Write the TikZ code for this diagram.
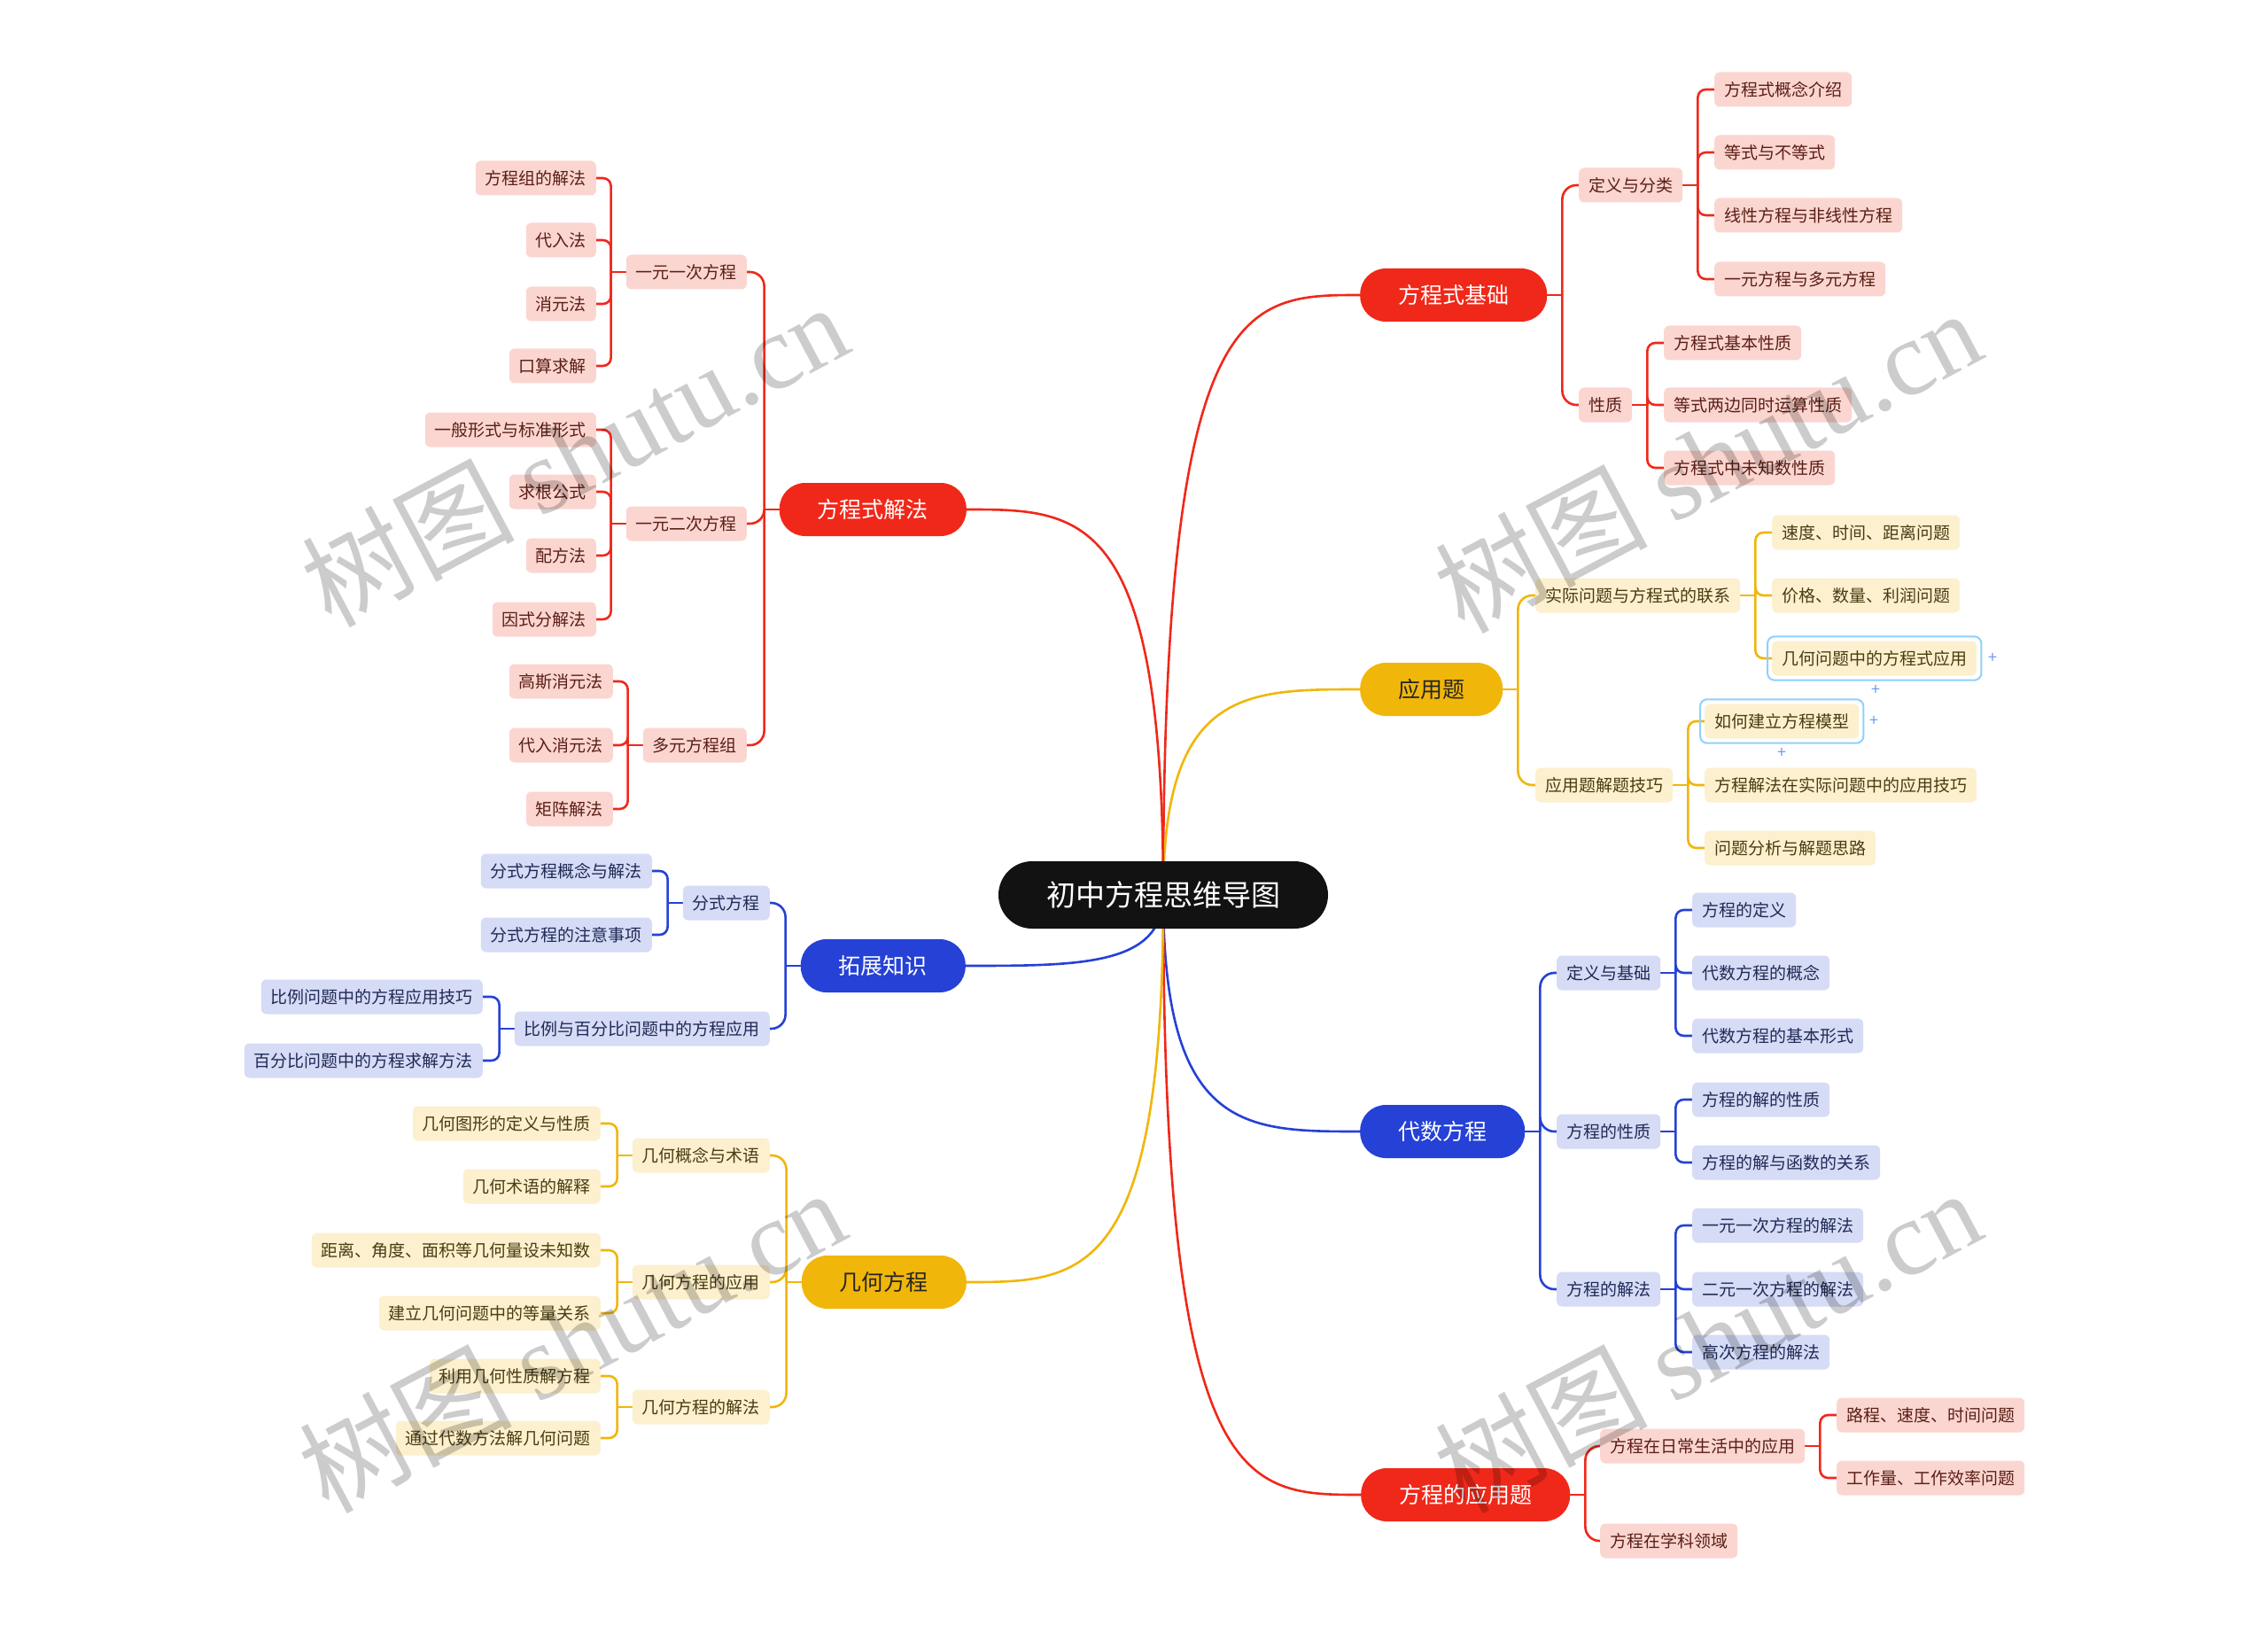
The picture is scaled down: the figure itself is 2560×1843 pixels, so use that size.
\documentclass[tikz,border=0pt]{standalone}
\usepackage{fontspec}
\setmainfont{Noto Sans CJK SC}
\newfontfamily\wmserif{Liberation Serif}
\usepackage{tikz}
\usetikzlibrary{calc, backgrounds}

\definecolor{redmain}{HTML}{F0281A}
\definecolor{redfill}{HTML}{FBD6D0}
\definecolor{redtext}{HTML}{5A1E16}
\definecolor{yelmain}{HTML}{F1B60A}
\definecolor{yelfill}{HTML}{FCF0CE}
\definecolor{yeltext}{HTML}{4A3C12}
\definecolor{bluemain}{HTML}{2541D6}
\definecolor{bluefill}{HTML}{D6DBF6}
\definecolor{bluetext}{HTML}{1F2A55}
\definecolor{selblue}{HTML}{8FD0FF}
\definecolor{plusblue}{HTML}{6A9CF0}

% children of a parent on the right / on the left
\newcommand{\kidsR}[4]{%
  \draw[#2] (#1.east) -- ++(17,0) coordinate (#1-j);
  \foreach \kid in {#4} \draw[#2, rounded corners=#3] (#1-j) |- (\kid.west);
}
\newcommand{\kidsL}[4]{%
  \draw[#2] (#1.west) -- ++(-17,0) coordinate (#1-j);
  \foreach \kid in {#4} \draw[#2, rounded corners=#3] (#1-j) |- (\kid.east);
}

\begin{document}
\begin{tikzpicture}[x=1pt, y=-1pt,
    rootnode/.style={fill=black!93, text=white, rounded corners=38pt, inner xsep=54pt, minimum height=76pt, font=\fontsize{33}{38}\selectfont},
    topic/.style={rounded corners=29pt, inner xsep=43pt, minimum height=60pt, font=\fontsize{25}{30}\selectfont},
    leaf/.style={rounded corners=6pt, inner xsep=11pt, inner ysep=0pt, minimum height=39pt, font=\fontsize{19}{22}\selectfont},
    redsub/.style={leaf, fill=redfill, text=redtext},
    yelsub/.style={leaf, fill=yelfill, text=yeltext},
    bluesub/.style={leaf, fill=bluefill, text=bluetext},
    redln/.style={draw=redmain, line width=2.6pt},
    yelln/.style={draw=yelmain, line width=2.6pt},
    bluln/.style={draw=bluemain, line width=2.6pt},
    selbox/.style={draw=selblue, line width=2pt, rounded corners=8pt},
    plusmk/.style={text=plusblue, inner sep=0pt, font=\fontsize{18}{18}\selectfont},
    wmark/.style={rotate=28, text=black, text opacity=0.2, font=\fontsize{120}{130}\selectfont}]

    \useasboundingbox (0,0) rectangle (2560,1843);

    \node[rootnode] (root) at (1313,1010) {初中方程思维导图};

    % right side
    \node[topic, fill=redmain, text=white, anchor=west] (jichu) at (1535,333) {方程式基础};
    \node[topic, fill=yelmain, text=black!85, anchor=west] (yyt) at (1535,778) {应用题};
    \node[topic, fill=bluemain, text=white, anchor=west] (daishu) at (1535,1277) {代数方程};
    \node[topic, fill=redmain, text=white, anchor=west] (yingyong) at (1536,1687) {方程的应用题};

    \node[redsub, anchor=west] (dyfl) at (1782,209) {定义与分类};
    \node[redsub, anchor=west] (xz) at (1782,457) {性质};
    \node[redsub, anchor=west] (gnjs) at (1935,101) {方程式概念介绍};
    \node[redsub, anchor=west] (dsbds) at (1935,172) {等式与不等式};
    \node[redsub, anchor=west] (xxfc) at (1935,243) {线性方程与非线性方程};
    \node[redsub, anchor=west] (yydy) at (1935,315) {一元方程与多元方程};
    \node[redsub, anchor=west] (jbxz) at (1878,387) {方程式基本性质};
    \node[redsub, anchor=west] (tsys) at (1878,457) {等式两边同时运算性质};
    \node[redsub, anchor=west] (wzs) at (1878,528) {方程式中未知数性质};

    \node[yelsub, anchor=west] (sjlx) at (1733,672) {实际问题与方程式的联系};
    \node[yelsub, anchor=west] (jtjq) at (1733,886) {应用题解题技巧};
    \node[yelsub, anchor=west] (sdsj) at (2000,601) {速度、时间、距离问题};
    \node[yelsub, anchor=west] (jgsl) at (2000,672) {价格、数量、利润问题};
    \node[yelsub, anchor=west] (jhyy) at (2000,743) {几何问题中的方程式应用};
    \node[yelsub, anchor=west] (jlmx) at (1924,814) {如何建立方程模型};
    \node[yelsub, anchor=west] (sjjq) at (1924,886) {方程解法在实际问题中的应用技巧};
    \node[yelsub, anchor=west] (fxsl) at (1924,957) {问题分析与解题思路};

    \node[bluesub, anchor=west] (dyjc) at (1757,1098) {定义与基础};
    \node[bluesub, anchor=west] (fcxz) at (1757,1277) {方程的性质};
    \node[bluesub, anchor=west] (fcjf) at (1757,1455) {方程的解法};
    \node[bluesub, anchor=west] (fcdy) at (1910,1027) {方程的定义};
    \node[bluesub, anchor=west] (dsgn) at (1910,1098) {代数方程的概念};
    \node[bluesub, anchor=west] (jbxs) at (1910,1169) {代数方程的基本形式};
    \node[bluesub, anchor=west] (jdxz) at (1910,1241) {方程的解的性质};
    \node[bluesub, anchor=west] (hsgx) at (1910,1312) {方程的解与函数的关系};
    \node[bluesub, anchor=west] (yyyc) at (1910,1383) {一元一次方程的解法};
    \node[bluesub, anchor=west] (eyyc) at (1910,1455) {二元一次方程的解法};
    \node[bluesub, anchor=west] (gcfc) at (1910,1526) {高次方程的解法};

    \node[redsub, anchor=west] (rcsh) at (1806,1632) {方程在日常生活中的应用};
    \node[redsub, anchor=west] (xkly) at (1806,1739) {方程在学科领域};
    \node[redsub, anchor=west] (lcsd) at (2073,1597) {路程、速度、时间问题};
    \node[redsub, anchor=west] (gzl) at (2073,1668) {工作量、工作效率问题};

    % left side
    \node[topic, fill=redmain, text=white, anchor=east] (jiefa) at (1091,575) {方程式解法};
    \node[topic, fill=bluemain, text=white, anchor=east] (tuozhan) at (1090,1090) {拓展知识};
    \node[topic, fill=yelmain, text=black!85, anchor=east] (jihe) at (1091,1447) {几何方程};

    \node[redsub, anchor=east] (yc1) at (843,307) {一元一次方程};
    \node[redsub, anchor=east] (ec1) at (843,591) {一元二次方程};
    \node[redsub, anchor=east] (dyz) at (843,841) {多元方程组};
    \node[redsub, anchor=east] (zjf) at (673,201) {方程组的解法};
    \node[redsub, anchor=east] (drf) at (673,271) {代入法};
    \node[redsub, anchor=east] (xyf) at (673,343) {消元法};
    \node[redsub, anchor=east] (ksqj) at (673,413) {口算求解};
    \node[redsub, anchor=east] (ybxs) at (673,485) {一般形式与标准形式};
    \node[redsub, anchor=east] (qggs) at (673,555) {求根公式};
    \node[redsub, anchor=east] (pff) at (673,627) {配方法};
    \node[redsub, anchor=east] (ysfj) at (673,699) {因式分解法};
    \node[redsub, anchor=east] (gsxy) at (692,769) {高斯消元法};
    \node[redsub, anchor=east] (drxy) at (692,841) {代入消元法};
    \node[redsub, anchor=east] (jzjf) at (692,913) {矩阵解法};

    \node[bluesub, anchor=east] (fsfc) at (869,1019) {分式方程};
    \node[bluesub, anchor=east] (blbf) at (869,1161) {比例与百分比问题中的方程应用};
    \node[bluesub, anchor=east] (fsgn) at (736,983) {分式方程概念与解法};
    \node[bluesub, anchor=east] (fszy) at (736,1055) {分式方程的注意事项};
    \node[bluesub, anchor=east] (bljq) at (545,1125) {比例问题中的方程应用技巧};
    \node[bluesub, anchor=east] (bfbf) at (545,1197) {百分比问题中的方程求解方法};

    \node[yelsub, anchor=east] (gnsy) at (869,1304) {几何概念与术语};
    \node[yelsub, anchor=east] (jhfy) at (869,1447) {几何方程的应用};
    \node[yelsub, anchor=east] (jhjf) at (869,1588) {几何方程的解法};
    \node[yelsub, anchor=east] (txdy) at (678,1268) {几何图形的定义与性质};
    \node[yelsub, anchor=east] (syjs) at (678,1339) {几何术语的解释};
    \node[yelsub, anchor=east] (jljd) at (678,1411) {距离、角度、面积等几何量设未知数};
    \node[yelsub, anchor=east] (dlgx) at (678,1482) {建立几何问题中的等量关系};
    \node[yelsub, anchor=east] (lyxz) at (678,1553) {利用几何性质解方程};
    \node[yelsub, anchor=east] (dsff) at (678,1623) {通过代数方法解几何问题};

    % selected nodes
    \draw[selbox] ($(jhyy.south west)+(-5,5)$) rectangle ($(jhyy.north east)+(5,-5)$);
    \draw[selbox] ($(jlmx.south west)+(-5,5)$) rectangle ($(jlmx.north east)+(5,-5)$);
    \node[plusmk] (plusA) at (2249,743) {+};
    \node[plusmk] (plusB) at (2117,779) {+};
    \node[plusmk] (plusC) at (2115,814) {+};
    \node[plusmk] (plusD) at (2011,850) {+};

    \begin{scope}[on background layer]
        \fill[white] (0,0) rectangle (2560,1843);
        \draw[redln] (root.center) .. controls (root.center |- jichu.west) and ($(jichu.west)+(-130,0)$) .. (jichu.west);
        \draw[yelln] (root.center) .. controls (root.center |- yyt.west) and ($(yyt.west)+(-130,0)$) .. (yyt.west);
        \draw[bluln] (root.center) .. controls (root.center |- daishu.west) and ($(daishu.west)+(-130,0)$) .. (daishu.west);
        \draw[redln] (root.center) .. controls (root.center |- yingyong.west) and ($(yingyong.west)+(-130,0)$) .. (yingyong.west);
        \draw[redln] (root.center) .. controls (root.center |- jiefa.east) and ($(jiefa.east)+(130,0)$) .. (jiefa.east);
        \draw[bluln] (root.center) .. controls (root.center |- tuozhan.east) and ($(tuozhan.east)+(130,0)$) .. (tuozhan.east);
        \draw[yelln] (root.center) .. controls (root.center |- jihe.east) and ($(jihe.east)+(130,0)$) .. (jihe.east);

        \kidsR{jichu}{redln}{16pt}{dyfl, xz}
        \kidsR{dyfl}{redln}{9pt}{gnjs, dsbds, xxfc, yydy}
        \kidsR{xz}{redln}{9pt}{jbxz, tsys, wzs}
        \kidsR{yyt}{yelln}{16pt}{sjlx, jtjq}
        \kidsR{sjlx}{yelln}{9pt}{sdsj, jgsl, jhyy}
        \kidsR{jtjq}{yelln}{9pt}{jlmx, sjjq, fxsl}
        \kidsR{daishu}{bluln}{16pt}{dyjc, fcxz, fcjf}
        \kidsR{dyjc}{bluln}{9pt}{fcdy, dsgn, jbxs}
        \kidsR{fcxz}{bluln}{9pt}{jdxz, hsgx}
        \kidsR{fcjf}{bluln}{9pt}{yyyc, eyyc, gcfc}
        \kidsR{yingyong}{redln}{16pt}{rcsh, xkly}
        \kidsR{rcsh}{redln}{9pt}{lcsd, gzl}

        \kidsL{jiefa}{redln}{16pt}{yc1, ec1, dyz}
        \kidsL{yc1}{redln}{9pt}{zjf, drf, xyf, ksqj}
        \kidsL{ec1}{redln}{9pt}{ybxs, qggs, pff, ysfj}
        \kidsL{dyz}{redln}{9pt}{gsxy, drxy, jzjf}
        \kidsL{tuozhan}{bluln}{16pt}{fsfc, blbf}
        \kidsL{fsfc}{bluln}{9pt}{fsgn, fszy}
        \kidsL{blbf}{bluln}{9pt}{bljq, bfbf}
        \kidsL{jihe}{yelln}{16pt}{gnsy, jhfy, jhjf}
        \kidsL{gnsy}{yelln}{9pt}{txdy, syjs}
        \kidsL{jhfy}{yelln}{9pt}{jljd, dlgx}
        \kidsL{jhjf}{yelln}{9pt}{lyxz, dsff}
    \end{scope}

    % watermark
    \node[wmark] (wm1) at (648,512) {树图 {\wmserif shutu.cn}};
    \node[wmark] (wm2) at (1927,519) {树图 {\wmserif shutu.cn}};
    \node[wmark] (wm3) at (645,1512) {树图 {\wmserif shutu.cn}};
    \node[wmark] (wm4) at (1927,1512) {树图 {\wmserif shutu.cn}};
\end{tikzpicture}
\end{document}
